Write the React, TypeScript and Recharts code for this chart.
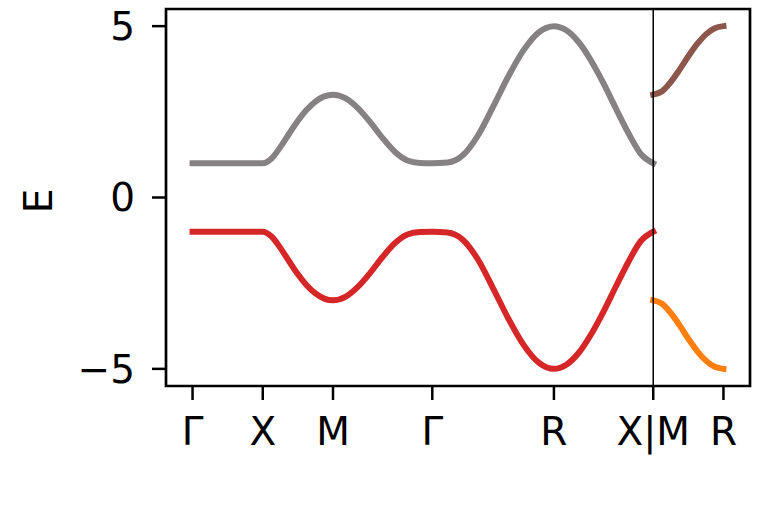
import { LineChart, Line, XAxis, YAxis, ReferenceLine, ReferenceArea } from "recharts";

// k-path positions along Γ-X-M-Γ-R-X (first panel) and M-R (second panel)
const kPath1 = [
  0, 0.25, 0.5,
  0.5625, 0.625, 0.6875, 0.75, 0.8125, 0.875, 0.9375, 1.0,
  1.088, 1.177, 1.265, 1.354, 1.442, 1.53, 1.619, 1.707,
  1.815, 1.924, 2.032, 2.14, 2.248, 2.357, 2.465, 2.573,
  2.661, 2.75, 2.838, 2.927, 3.015, 3.103, 3.192, 3.28,
];
const upper1 = [
  1, 1, 1,
  1.14, 1.47, 1.86, 2.24, 2.56, 2.8, 2.95, 3,
  2.9, 2.61, 2.2, 1.73, 1.33, 1.08, 1.01, 1,
  1.02, 1.23, 1.81, 2.65, 3.53, 4.3, 4.82, 5,
  4.88, 4.53, 3.99, 3.32, 2.59, 1.88, 1.27, 1,
];
const lower1 = [
  -1, -1, -1,
  -1.14, -1.47, -1.86, -2.24, -2.56, -2.8, -2.95, -3,
  -2.9, -2.61, -2.2, -1.73, -1.33, -1.08, -1.01, -1,
  -1.02, -1.23, -1.81, -2.65, -3.53, -4.3, -4.82, -5,
  -4.88, -4.53, -3.99, -3.32, -2.59, -1.88, -1.27, -1,
];

const kPath2 = [3.28, 3.343, 3.405, 3.468, 3.53, 3.593, 3.655, 3.718, 3.78];
const upper2 = [3, 3.1, 3.37, 3.73, 4.12, 4.48, 4.76, 4.94, 5];
const lower2 = [-3, -3.1, -3.37, -3.73, -4.12, -4.48, -4.76, -4.94, -5];

const kTicks = [0, 0.5, 1.0, 1.707, 2.573, 3.28, 3.78];
const kLabels = ["Γ", "X", "M", "Γ", "R", "X|M", "R"];
const eTicks = [-5, 0, 5];

const X_DOMAIN: [number, number] = [-0.189, 3.969];
const Y_DOMAIN: [number, number] = [-5.5, 5.5];

const seg1 = kPath1.map((k, i) => ({ k, upper: upper1[i], lower: lower1[i] }));
const seg2 = kPath2.map((k, i) => ({ k, upper: upper2[i], lower: lower2[i] }));

const font = "'DejaVu Sans', sans-serif";
const tickStyle = { fill: "#000", fontSize: 39, fontFamily: font };

const App = () => {
  return (
    <div style={{ position: "absolute", left: 0, top: 0, width: 784, height: 522, background: "#fff" }}>
      <LineChart width={784} height={522} margin={{ top: 9, right: 34, bottom: 76, left: 0 }}>
        <XAxis
          type="number"
          dataKey="k"
          domain={X_DOMAIN}
          ticks={kTicks}
          tickFormatter={(v: number) => kLabels[kTicks.indexOf(v)] ?? ""}
          interval={0}
          height={60}
          axisLine={false}
          tickLine={{ stroke: "#000", strokeWidth: 2.5 }}
          tickSize={14}
          tickMargin={17}
          tick={tickStyle}
        />
        <YAxis
          type="number"
          domain={Y_DOMAIN}
          ticks={eTicks}
          tickFormatter={(v: number) => String(v).replace("-", "\u2212")}
          width={166}
          axisLine={false}
          tickLine={{ stroke: "#000", strokeWidth: 2.5 }}
          tickSize={14}
          tickMargin={17}
          tick={tickStyle}
          label={{
            content: () => (
              <text
                x={52}
                y={201}
                transform="rotate(-90, 52, 201)"
                textAnchor="middle"
                fontSize={39}
                fontFamily={font}
                fill="#000"
              >
                E
              </text>
            ),
          }}
        />
        <Line data={seg1} dataKey="upper" type="monotone" stroke="#868283" strokeWidth={6}
          strokeLinecap="square" dot={false} isAnimationActive={false} />
        <Line data={seg1} dataKey="lower" type="monotone" stroke="#d62728" strokeWidth={6}
          strokeLinecap="square" dot={false} isAnimationActive={false} />
        <Line data={seg2} dataKey="upper" type="monotone" stroke="#8c564b" strokeWidth={6}
          strokeLinecap="square" dot={false} isAnimationActive={false} />
        <Line data={seg2} dataKey="lower" type="monotone" stroke="#ff7f0e" strokeWidth={6}
          strokeLinecap="square" dot={false} isAnimationActive={false} />
        <ReferenceLine x={3.28} stroke="#000" strokeWidth={1.5} ifOverflow="visible" />
        <ReferenceArea
          x1={X_DOMAIN[0]}
          x2={X_DOMAIN[1]}
          y1={Y_DOMAIN[0]}
          y2={Y_DOMAIN[1]}
          fill="none"
          stroke="#000"
          strokeWidth={2.7}
          ifOverflow="visible"
        />
      </LineChart>
    </div>
  );
};

export default App;
